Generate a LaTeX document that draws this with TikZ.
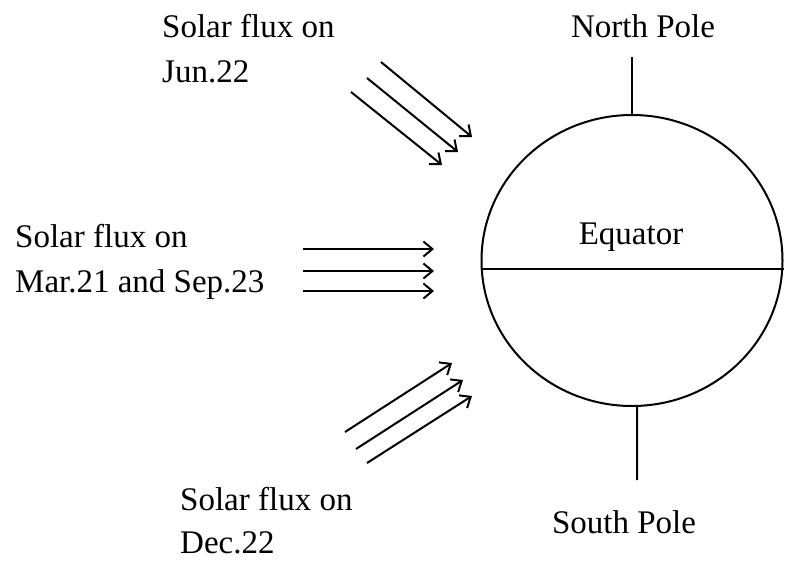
\documentclass[tikz,border=0pt]{standalone}
\usepackage{fontspec}
\setmainfont{Liberation Serif}
\usetikzlibrary{arrows.meta,shapes.geometric}
\begin{document}
\begin{tikzpicture}[x=1pt,y=-1pt,
  lbl/.style={anchor=base west,inner sep=0pt,font=\fontsize{33}{40}\selectfont},
  clbl/.style={anchor=base,inner sep=0pt,font=\fontsize{33}{40}\selectfont},
  ray/.style={line width=2pt,-{Straight Barb[length=9pt,width=15pt,line width=2pt]}},
  thick line/.style={line width=2pt}]
\useasboundingbox (0,0) rectangle (785,560);
% Earth
\node[draw,thick line,ellipse,inner sep=0pt,minimum width=301,minimum height=291] (earth) at (632,260.5) {};
\draw[thick line] ([yshift=-8.5pt]earth.west) -- ([yshift=-8.5pt]earth.east);
\node[clbl] (equator) at (631,244) {Equator};
% Poles
\coordinate (np) at (632,57);
\draw[thick line] (np) -- (earth.north);
\coordinate (sp) at (637,480);
\draw[thick line] (earth.-88) -- (sp);
\node[clbl] (northpole) at (643,37) {North Pole};
\node[clbl] (southpole) at (624,533) {South Pole};
% Labels
\node[lbl] (jun1) at (162,37) {Solar flux on};
\node[lbl] (jun2) at (162,82) {Jun.22};
\node[lbl] (mar1) at (15,247) {Solar flux on};
\node[lbl] (mar2) at (15,292) {Mar.21 and Sep.23};
\node[lbl] (dec1) at (180,510) {Solar flux on};
\node[lbl] (dec2) at (180,553) {Dec.22};
% June rays
\coordinate (ja1) at (381,62);  \coordinate (jb1) at (472,137);
\coordinate (ja2) at (367,78);  \coordinate (jb2) at (458,152);
\coordinate (ja3) at (351,92);  \coordinate (jb3) at (442,165);
\draw[ray] (ja1) -- (jb1);
\draw[ray] (ja2) -- (jb2);
\draw[ray] (ja3) -- (jb3);
% Equinox rays
\coordinate (ma1) at (303,249); \coordinate (mb1) at (434,249);
\coordinate (ma2) at (303,271); \coordinate (mb2) at (434,271);
\coordinate (ma3) at (303,291); \coordinate (mb3) at (434,291);
\draw[ray] (ma1) -- (mb1);
\draw[ray] (ma2) -- (mb2);
\draw[ray] (ma3) -- (mb3);
% December rays
\coordinate (da1) at (345,432); \coordinate (db1) at (452,363);
\coordinate (da2) at (356,449); \coordinate (db2) at (463,380);
\coordinate (da3) at (367,463); \coordinate (db3) at (472,396);
\draw[ray] (da1) -- (db1);
\draw[ray] (da2) -- (db2);
\draw[ray] (da3) -- (db3);
\end{tikzpicture}
\end{document}
